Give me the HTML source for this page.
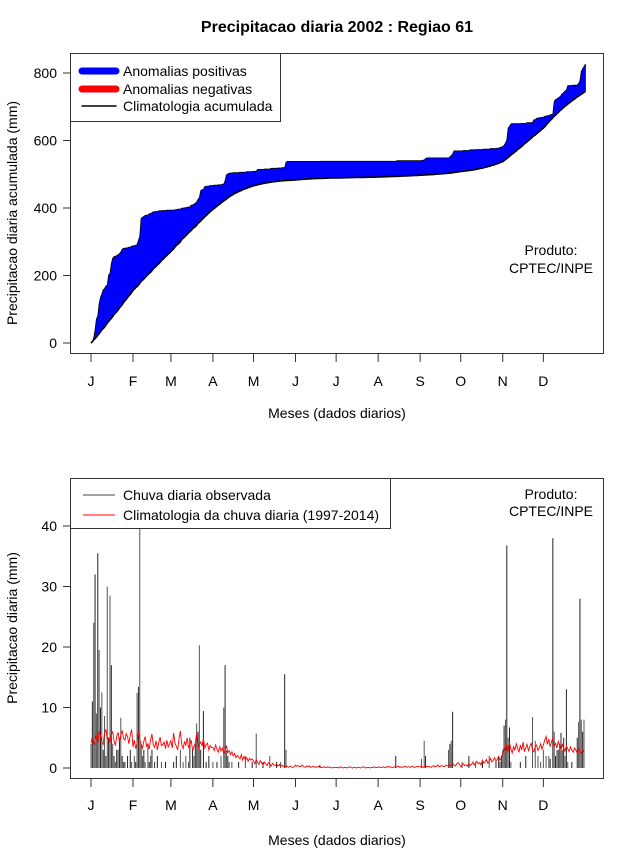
<!DOCTYPE html>
<html><head><meta charset="utf-8">
<style>
html,body{margin:0;padding:0;background:#fff;}
svg{display:block;font-family:"Liberation Sans",sans-serif;}
</style></head>
<body>
<svg id="chart" width="640" height="850" viewBox="0 0 640 850">
<defs>
<clipPath id="clipTop"><rect x="70" y="53" width="533" height="300"/></clipPath>
<clipPath id="clipBot"><rect x="70" y="478" width="533" height="300"/></clipPath>
</defs>
<text x="337" y="32" text-anchor="middle" font-size="16" font-weight="bold">Precipitacao diaria 2002 : Regiao 61</text>
<g id="topPanel"></g>
<g id="botPanel"></g>
</svg>
<script>
const months = ["J","F","M","A","M","J","J","A","S","O","N","D"];
const monthStartDays = [1,32,60,91,121,152,182,213,244,274,305,335];
const topTicks = [0,200,400,600,800];
const botTicks = [0,10,20,30,40];

const obsJan = [4,11,24,32,9,35.5,19.5,10,12.5,3,8.6,2,30,5,28.5,17,4,2,1,3,3,5,8.3,2,1,1,0,2,0,3,1];
const obsFeb = [0,2,1,12.4,13.4,52,4,2,3,1,0,4,1,2,3,0,1,0,2,0,0,1,0,0,1,0,0,0];
const obsMar = [0,0,1,0,2,0,0,3,0,1,0,2,0,1,5,0,3,2,4,7.4,6,20.3,3,0,9.4,0,1,0,2,0,0];
const obsApr = [1,0,0,1,0,0,2,0,10,17,3,2,1,0,1,0,0,0,0,1,0,0,0,0,2,0,0,0,0,1];
const obsMay = [0,0,5.7,0,0,0,0,1,0,0,0,0,2,0,0,0,0,1,0,0,1,0,0,15.5,3,0,0,0,0,0,0];
const obsJun = [0,0,0,0,0,0,0,0,0,0,0,0,0,0,0,0,0,0,0.5,0,0,0,0,0,0,0,0,0,0,0];
const obsJul = [0,0,0,0,0,0,0,0,0,0,0,0,0,0,0,0,0,0,0,0,0,0,0,0,0,0,0,0,0,0,0];
const obsAug = [0,0,0,0,0,0,0,0,0,0,0,0,0,2,0,0,0,0,0,0,0,0,0,0,0,0,0,0,0,0,0];
const obsSep = [0,1.5,0,4.5,2,0,0,0,0,0,0,0,0,0,0,0,0,0,0,0,0,3,4,4.5,9.3,0,0,0,0,0];
const obsOct = [0,1,0,0,0,0,2,0,0,0,0,1,0,0,0,0,1,0,0,0,0,2,0,0,0,0,1,0,2,1,2];
const obsNov = [3,7,8,36.8,5,6.7,1,0,0,0,0,0,0,1,0,0,0,2,0,0,0,0,8.4,0,4.5,0,2,0,1,0];
const obsDec = [3,0,2,0,2,1.5,0,38,6,2,3,3,4,5.8,3,5,2,13,1,0,0,1,0,0,0,5,7.6,28,8,6,8];

const climJan = [4.2,5.1,3.8,4.6,5.5,4.0,6.1,5.3,4.4,3.9,5.8,6.3,4.8,5.0,4.1,5.6,6.0,4.5,3.7,5.2,5.9,4.3,5.4,6.2,4.9,4.6,5.7,5.1,4.0,5.5,6.4];
const climFeb = [3.5,4.6,3.2,4.1,6.0,4.8,3.9,3.3,4.4,5.2,3.6,4.0,3.1,4.7,5.6,3.8,3.4,4.5,3.0,4.2,5.1,3.7,3.9,4.3,3.2,4.6,3.5,4.0];
const climMar = [4.5,3.3,5.8,4.1,3.6,3.0,4.8,6.1,3.9,3.2,4.4,3.7,5.0,3.4,3.8,4.6,2.9,3.5,4.2,5.6,3.1,3.9,4.3,3.6,4.9,3.3,3.8,4.1,3.0,3.7,3.4];
const climApr = [3.4,2.9,3.8,3.1,2.6,3.5,2.8,3.3,2.4,3.0,3.7,2.5,2.9,2.2,2.7,2.0,2.4,1.7,2.1,1.8,1.5,2.2,1.3,1.9,1.4,1.7,1.1,1.6,1.3,1.5];
const climMay = [1.1,0.7,1.4,0.9,0.6,1.2,0.8,0.5,1.0,0.7,0.4,0.9,0.6,0.3,0.8,0.5,0.4,0.7,0.3,0.6,0.2,0.5,0.3,0.2,0.4,0.2,0.1,0.3,0.2,0.1,0.2];
const climJun = [0.5,0.3,0.4,0.2,0.3,0.5,0.2,0.1,0.3,0.2,0.4,0.1,0.2,0.3,0.1,0.2,0.1,0.3,0.2,0.1,0.1,0.2,0.1,0.1,0.2,0.1,0.1,0.0,0.1,0.1];
const climJul = [0.1,0.1,0.0,0.2,0.1,0.0,0.1,0.1,0.0,0.1,0.2,0.1,0.0,0.1,0.1,0.0,0.1,0.1,0.0,0.1,0.2,0.1,0.0,0.1,0.1,0.0,0.1,0.1,0.2,0.1,0.1];
const climAug = [0.1,0.2,0.1,0.1,0.2,0.1,0.1,0.3,0.1,0.2,0.1,0.1,0.2,0.1,0.2,0.3,0.1,0.2,0.1,0.2,0.3,0.1,0.2,0.2,0.1,0.3,0.2,0.1,0.2,0.3,0.2];
const climSep = [0.2,0.3,0.1,0.2,0.4,0.2,0.3,0.2,0.1,0.3,0.4,0.2,0.3,0.5,0.2,0.3,0.4,0.3,0.2,0.5,0.4,0.3,0.6,0.4,0.8,0.5,0.3,0.7,0.9,0.6];
const climOct = [0.2,0.5,0.7,0.4,0.5,0.3,0.8,0.4,0.6,1.0,0.5,0.8,1.1,0.7,0.9,0.5,1.3,0.8,1.0,1.4,0.8,1.1,1.6,1.0,1.3,1.7,1.1,1.5,1.9,1.3,1.7];
const climNov = [2.4,3.5,2.8,3.9,2.6,4.2,3.1,2.5,3.6,2.9,4.0,3.3,2.6,3.8,3.0,4.3,2.7,3.4,3.9,2.8,3.6,4.1,3.0,2.7,3.5,3.8,2.9,3.3,4.0,3.1];
const climDec = [3.8,4.6,5.2,3.9,4.8,3.5,4.3,5.0,3.6,4.1,3.3,4.4,3.7,3.0,3.9,3.4,2.8,3.6,3.2,2.7,3.5,3.0,2.6,3.3,2.9,2.5,3.1,2.7,2.4,3.0,2.6];

const obs = [].concat(obsJan,obsFeb,obsMar,obsApr,obsMay,obsJun,obsJul,obsAug,obsSep,obsOct,obsNov,obsDec);
const clim = [].concat(climJan,climFeb,climMar,climApr,climMay,climJun,climJul,climAug,climSep,climOct,climNov,climDec);

const NS = "http://www.w3.org/2000/svg";
function mk(tag, attrs, parent, txt){
  const e = document.createElementNS(NS, tag);
  for (const k in attrs) e.setAttribute(k, attrs[k]);
  if (txt !== undefined) e.textContent = txt;
  parent.appendChild(e);
  return e;
}
const xDay = d => 91 + (d-1)*(584-91)/364;
const yTop = v => 343 - v*(270/800);
const yBot = v => 768 - v*(242/40);

/* ---------- TOP PANEL ---------- */
const topG = document.getElementById('topPanel');
let cObs = [0], cClim = [0], so = 0, sc = 0;
for (let i=0;i<obs.length;i++){ so+=obs[i]; sc+=clim[i]; cObs.push(so); cClim.push(sc); }
const gT = mk('g',{'clip-path':'url(#clipTop)'},topG);
let pts = [];
for (let i=0;i<cObs.length;i++) pts.push(xDay(i+1).toFixed(1)+','+yTop(cObs[i]).toFixed(1));
for (let i=cClim.length-1;i>=0;i--) pts.push(xDay(i+1).toFixed(1)+','+yTop(cClim[i]).toFixed(1));
const area = mk('polygon',{points:pts.join(' '),fill:'#0000ff',stroke:'#000','stroke-width':'0.8'},gT);


let cl = [];
for (let i=0;i<cClim.length;i++) cl.push(xDay(i+1).toFixed(1)+','+yTop(cClim[i]).toFixed(1));
const climLine = mk('polyline',{points:cl.join(' '),fill:'none',stroke:'#000','stroke-width':'1.6'},gT);



const frameT = mk('rect',{x:70.5,y:53.5,width:533,height:300,fill:'none',stroke:'#333','stroke-width':'1'},topG);


topTicks.forEach(v=>{
  const y = yTop(v);
  mk('line',{x1:63,x2:70,y1:y,y2:y,stroke:'#333'},topG);
  const t = mk('text',{x:57,y:y+5,'text-anchor':'end','font-size':'14'},topG,String(v));
  
  
});
monthStartDays.forEach((d,i)=>{
  const x = xDay(d);
  mk('line',{x1:x,x2:x,y1:354,y2:362,stroke:'#333'},topG);
  const t = mk('text',{x:x,y:386,'text-anchor':'middle','font-size':'14'},topG,months[i]);
  
  
});
const ytT = mk('text',{x:17,y:213,'text-anchor':'middle','font-size':'14',transform:'rotate(-90 17 213)'},topG,'Precipitacao diaria acumulada (mm)');


const xtT = mk('text',{x:337,y:418,'text-anchor':'middle','font-size':'14'},topG,'Meses (dados diarios)');


const p1 = mk('text',{x:551,y:255,'text-anchor':'middle','font-size':'14'},topG,'Produto:');


const p2 = mk('text',{x:551,y:273,'text-anchor':'middle','font-size':'14'},topG,'CPTEC/INPE');


const legT = mk('g',{},topG);


mk('rect',{x:70.5,y:53.5,width:210,height:68,fill:'#fff',stroke:'#333'},legT);
[['#0000ff',7,'Anomalias positivas',71],['#ff0000',7,'Anomalias negativas',89],['#000',1.5,'Climatologia acumulada',106]].forEach(e=>{
  mk('line',{x1:82,x2:116,y1:e[3],y2:e[3],stroke:e[0],'stroke-width':e[1],'stroke-linecap':'round'},legT);
  const t = mk('text',{x:123,y:e[3]+5,'font-size':'14'},legT,e[2]);
  
  
});

/* ---------- BOTTOM PANEL ---------- */
const botG = document.getElementById('botPanel');
const gB = mk('g',{'clip-path':'url(#clipBot)'},botG);
for (let i=0;i<obs.length;i++){
  if (obs[i] <= 0) continue;
  const x = xDay(i+1);
  const b = mk('line',{x1:x,x2:x,y1:yBot(0),y2:yBot(obs[i]),stroke:(i%2?'#222':'#555'),'stroke-width':'1'},gB);
  
  
}
let rl = [];
for (let i=0;i<clim.length;i++) rl.push(xDay(i+1).toFixed(1)+','+yBot(clim[i]).toFixed(1));
const red = mk('polyline',{points:rl.join(' '),fill:'none',stroke:'#ff0000','stroke-width':'0.9'},gB);


const frameB = mk('rect',{x:70.5,y:478.5,width:533,height:300,fill:'none',stroke:'#333'},botG);


botTicks.forEach(v=>{
  const y = yBot(v);
  mk('line',{x1:63,x2:70,y1:y,y2:y,stroke:'#333'},botG);
  const t = mk('text',{x:57,y:y+5,'text-anchor':'end','font-size':'14'},botG,String(v));
  
  
});
monthStartDays.forEach((d,i)=>{
  const x = xDay(d);
  mk('line',{x1:x,x2:x,y1:779,y2:787,stroke:'#333'},botG);
  const t = mk('text',{x:x,y:810,'text-anchor':'middle','font-size':'14'},botG,months[i]);
  
  
});
const ytB = mk('text',{x:17,y:628,'text-anchor':'middle','font-size':'14',transform:'rotate(-90 17 628)'},botG,'Precipitacao diaria (mm)');


const xtB = mk('text',{x:337,y:845,'text-anchor':'middle','font-size':'14'},botG,'Meses (dados diarios)');


const q1 = mk('text',{x:551,y:499,'text-anchor':'middle','font-size':'14'},botG,'Produto:');


const q2 = mk('text',{x:551,y:516,'text-anchor':'middle','font-size':'14'},botG,'CPTEC/INPE');


const legB = mk('g',{},botG);


mk('rect',{x:70.5,y:478.5,width:320,height:50,fill:'#fff',stroke:'#333'},legB);
[['#444','Chuva diaria observada',495],['#ff0000','Climatologia da chuva diaria (1997-2014)',515]].forEach(e=>{
  mk('line',{x1:83,x2:115,y1:e[2],y2:e[2],stroke:e[0],'stroke-width':'1'},legB);
  const t = mk('text',{x:123,y:e[2]+5,'font-size':'14'},legB,e[1]);
  
  
});
</script>
</body></html>
